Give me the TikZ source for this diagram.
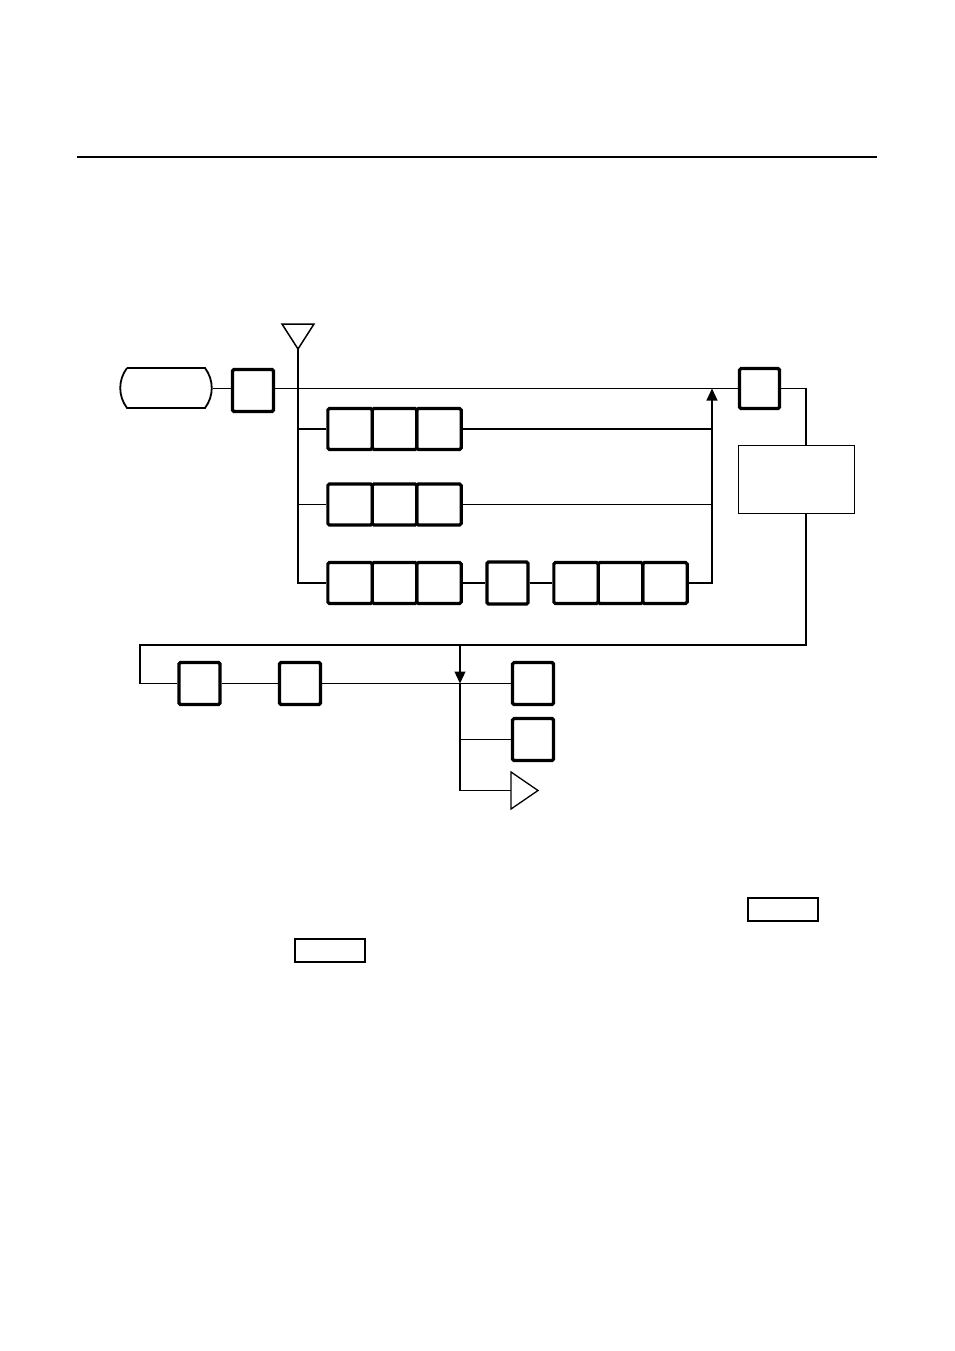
\documentclass[tikz,border=0pt]{standalone}
\usepackage{tikz}
\usetikzlibrary{arrows.meta, positioning, calc}

\begin{document}
\begin{tikzpicture}[
  x=1pt, y=-1pt,
  blk/.style={rectangle, draw, line width=3.2pt, rounded corners=1.5pt,
              inner sep=0pt, minimum width=41pt, minimum height=42pt},
  cell/.style={blk, minimum width=44.3pt, minimum height=41pt},
  wide/.style={rectangle, draw, line width=1.6pt, inner sep=0pt,
               minimum width=116pt, minimum height=68pt},
  tag/.style={rectangle, draw, line width=2pt, inner sep=0pt,
              minimum width=70pt, minimum height=23pt},
  wire/.style={line width=1.1pt},
  arr/.style={wire, -{Triangle[width=11pt,length=12pt]}}
]
\useasboundingbox (0,0) rectangle (954,1351);
% header rule
\draw[line width=2.8pt] (77,157) -- (877,157);

% start terminal and antenna
\draw[line width=1.8pt] (127,368) -- (205,368)
  .. controls (214,380) and (214,396) .. (205,408) -- (127,408)
  .. controls (118,396) and (118,380) .. (127,368);
\coordinate (start) at (213,388.5);
\draw[line width=1.5pt] (282,324) -- (314,324) -- (298,349) -- cycle;
\coordinate (ant) at (298,349);

\node[blk] (sel) at (253,390.5) {};
\node[blk, minimum width=40pt, minimum height=40pt] (out) at (759.5,388.5) {};
\node[wide] (big) at (796.5,479.5) {};
\coordinate (join) at (712,388.5);

% row 1
\node[cell] (r1a) at (350,429) {};
\node[cell] (r1b) at (394.5,429) {};
\node[cell] (r1c) at (439,429) {};
% row 2
\node[cell] (r2a) at (350,504.5) {};
\node[cell] (r2b) at (394.5,504.5) {};
\node[cell] (r2c) at (439,504.5) {};
% row 3
\node[cell] (r3a) at (350,583) {};
\node[cell] (r3b) at (394.5,583) {};
\node[cell] (r3c) at (439,583) {};
\node[blk] (r3d) at (507.5,583) {};
\node[cell] (r3e) at (576,583) {};
\node[cell] (r3f) at (620.5,583) {};
\node[cell] (r3g) at (665,583) {};

% lower chain
\node[blk] (cC) at (199.5,683.5) {};
\node[blk] (cD) at (300,683.5) {};
\node[blk] (cE) at (533,683.5) {};
\node[blk] (cF) at (533,739.5) {};
\draw[line width=1.3pt] (511,772) -- (538,790.5) -- (511,809) -- cycle;
\coordinate (outtri) at (511,790.5);
\coordinate (turn) at (140,645);
\coordinate (tap) at (460,645);

% small boxes
\node[tag] (t1) at (783,909.5) {};
\node[tag] (t2) at (330,950.5) {};

% connectors
\draw[wire] (start) -- (start -| sel.west);
\draw[wire] (start -| sel.east) -- (out.west);
\draw[wire] (ant) |- (r3a.west);
\draw[wire] (ant |- r1a.west) -- (r1a.west);
\draw[wire] (ant |- r2a.west) -- (r2a.west);
\draw[wire] (r1c.east) -- (r1c.east -| join);
\draw[wire] (r2c.east) -- (r2c.east -| join);
\draw[wire] (r3c.east) -- (r3d.west);
\draw[wire] (r3d.east) -- (r3e.west);
\draw[arr] (r3g.east) -| (join);
\draw[wire] (out.east) -| ([xshift=9.5pt]big.north);
\draw[wire] ([xshift=9.5pt]big.south) |- (turn) |- (cC.west);
\draw[wire] (cC.east) -- (cD.west);
\draw[wire] (cD.east) -- (cE.west);
\draw[arr] (tap) -- (tap |- cE.west);
\draw[wire] (tap |- cE.west) |- (outtri);
\draw[wire] (tap |- cF.west) -- (cF.west);
\end{tikzpicture}
\end{document}
